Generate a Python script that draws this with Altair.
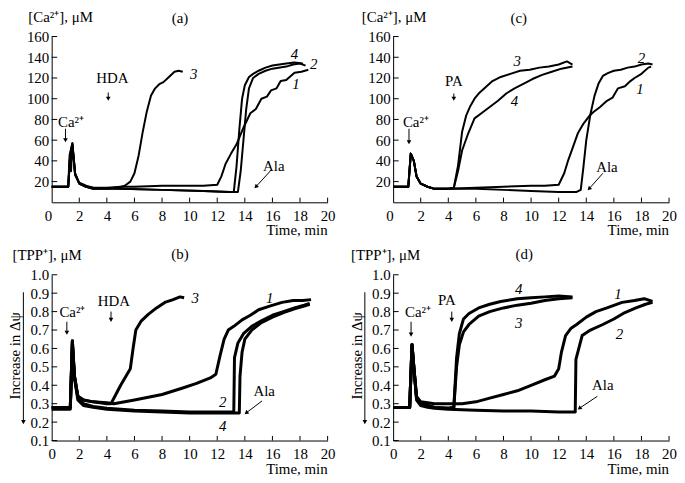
import altair as alt
import pandas as pd

FONT = "Liberation Serif"
W, H = 278, 167

X_TICKS = [0, 2, 4, 6, 8, 10, 12, 14, 16, 18, 20]
CA_TICKS = [20, 40, 60, 80, 100, 120, 140, 160]
TPP_TICKS = [0.1, 0.2, 0.3, 0.4, 0.5, 0.6, 0.7, 0.8, 0.9, 1.0]

# ---------------- panel (a): [Ca2+], HDA ----------------
A1_t = [0, 1.2, 1.3, 1.4, 1.5, 1.7, 2.0, 2.5, 3.0, 4, 5, 6, 8, 10, 11, 12.0, 12.3, 12.6, 13.0, 13.4, 13.9, 14.4, 14.8, 15.2, 15.6, 15.9, 16.3, 16.6, 17.0, 17.6, 18.1, 18.6]
A1_v = [15, 15, 46, 30, 56, 26, 19, 16, 14, 14, 15, 15, 16, 16, 16, 17, 25, 37, 47, 56, 72, 86, 90, 100, 102, 108, 110, 117, 118, 125, 126, 128]
A2_t = [0, 1.2, 1.35, 1.5, 1.7, 2.0, 2.5, 3, 5, 8, 11, 13.0, 13.5, 13.7, 13.9, 14.1, 14.3, 14.6, 15.0, 15.5, 16, 17, 17.5, 18.0, 18.4]
A2_v = [15, 15, 48, 57, 28, 18, 15, 14, 13, 12, 11, 10, 10, 30, 60, 90, 110, 120, 124, 127, 129, 131, 133, 134, 132]
A3_t = [0, 1.2, 1.35, 1.5, 1.7, 2.0, 2.5, 3, 4, 4.8, 5.3, 5.7, 6.0, 6.3, 6.6, 6.9, 7.2, 7.5, 7.8, 8.1, 8.5, 8.9, 9.2, 9.5]
A3_v = [15, 15, 47, 57, 28, 18, 15, 13, 13, 14, 16, 20, 28, 45, 68, 88, 103, 110, 114, 116, 121, 126, 127, 126]
A4_t = [0, 1.2, 1.35, 1.5, 1.7, 2.0, 2.5, 3, 5, 8, 11, 12.8, 13.2, 13.4, 13.6, 13.8, 14.0, 14.3, 14.6, 15.0, 15.5, 16, 17, 17.6, 18.2]
A4_v = [15, 15, 47, 55, 27, 18, 15, 13, 13, 12, 11, 10, 10, 35, 70, 100, 113, 121, 124, 127, 130, 132, 134, 135, 134]

# ---------------- panel (c): [Ca2+], PA ----------------
C1_t = [0, 1.1, 1.28, 1.5, 1.7, 2, 2.5, 3, 4, 6, 8, 10, 11, 12.0, 12.4, 12.7, 13.0, 13.4, 13.8, 14.2, 14.5, 15.0, 15.5, 15.9, 16.3, 16.8, 17.2, 17.5, 18.0, 18.5, 18.7]
C1_v = [15, 15, 47, 40, 25, 18, 15, 13, 13, 14, 15, 16, 16, 17, 28, 41, 52, 67, 76, 83, 87, 92, 98, 101, 110, 112, 117, 120, 124, 130, 131]
C2_t = [0, 1.1, 1.28, 1.5, 1.7, 2, 2.5, 3, 4, 6, 8, 10, 12, 13.3, 13.6, 13.8, 14.0, 14.3, 14.6, 14.9, 15.2, 15.6, 16.0, 16.5, 17, 17.5, 18.0, 18.5, 18.8]
C2_v = [15, 15, 47, 40, 25, 18, 15, 13, 13, 13, 12, 11, 10, 10, 12, 35, 60, 85, 103, 115, 122, 125, 127, 128, 130, 131, 133, 134, 133]
C3_t = [0, 1.1, 1.28, 1.5, 1.7, 2, 2.5, 3, 4.0, 4.4, 4.7, 5.0, 5.3, 5.6, 5.9, 6.2, 6.7, 7.2, 7.8, 8.5, 9.2, 9.9, 10.6, 11.3, 12.0, 12.6, 13.0]
C3_v = [15, 15, 47, 40, 25, 18, 15, 13, 13, 14, 35, 68, 84, 93, 100, 105, 111, 117, 121, 124, 127, 128, 130, 131, 133, 136, 133]
C4_t = [0, 1.1, 1.28, 1.5, 1.7, 2, 2.5, 3, 4.0, 4.4, 4.7, 5.0, 5.4, 5.9, 6.4, 7.0, 7.6, 8.2, 8.8, 9.4, 10.1, 10.8, 11.5, 12.2, 13.0]
C4_v = [15, 15, 47, 40, 25, 18, 15, 13, 13, 14, 30, 50, 65, 81, 86, 92, 98, 105, 110, 114, 119, 123, 126, 129, 131]

# ---------------- panel (b): [TPP+], HDA ----------------
B1_t = [0, 1.35, 1.5, 1.65, 1.9, 2.3, 3, 4, 4.5, 6, 8, 9.5, 10.5, 11.5, 11.9, 12.2, 12.5, 12.8, 13.2, 13.8, 14.4, 15.0, 15.8, 16.7, 17.5, 18.2, 18.8]
B1_v = [0.28, 0.28, 0.64, 0.45, 0.34, 0.32, 0.31, 0.305, 0.30, 0.32, 0.35, 0.385, 0.41, 0.44, 0.46, 0.56, 0.65, 0.70, 0.72, 0.755, 0.78, 0.81, 0.83, 0.85, 0.86, 0.86, 0.865]
B2_t = [0, 1.35, 1.5, 1.65, 1.9, 2.3, 3, 4, 6, 8, 10, 12, 13.2, 13.25, 13.5, 13.9, 14.5, 15.2, 16, 16.8, 17.6, 18.3, 18.7]
B2_v = [0.28, 0.28, 0.64, 0.45, 0.33, 0.30, 0.285, 0.275, 0.265, 0.26, 0.255, 0.255, 0.255, 0.55, 0.63, 0.68, 0.72, 0.75, 0.78, 0.80, 0.82, 0.835, 0.845]
B3_t = [0, 1.35, 1.5, 1.65, 1.9, 2.3, 3, 4, 4.3, 5.0, 5.7, 5.9, 6.1, 6.5, 7.0, 7.6, 8.2, 8.8, 9.3, 9.6]
B3_v = [0.28, 0.28, 0.64, 0.45, 0.34, 0.32, 0.31, 0.30, 0.30, 0.40, 0.49, 0.60, 0.70, 0.75, 0.785, 0.82, 0.85, 0.865, 0.88, 0.875]
B4_t = [0, 1.35, 1.5, 1.65, 1.9, 2.3, 3, 4, 6, 8, 10, 12, 13.6, 13.65, 13.8, 14.0, 14.5, 15.2, 16, 16.8, 17.6, 18.3, 18.7]
B4_v = [0.27, 0.27, 0.62, 0.44, 0.32, 0.29, 0.28, 0.27, 0.26, 0.255, 0.25, 0.25, 0.25, 0.45, 0.58, 0.65, 0.70, 0.74, 0.77, 0.795, 0.815, 0.83, 0.84]

# ---------------- panel (d): [TPP+], PA ----------------
D1_t = [0, 1.2, 1.37, 1.5, 1.7, 2.0, 2.5, 3, 4, 5, 6, 7, 8, 9, 10, 11, 11.7, 12.0, 12.2, 12.5, 12.9, 13.3, 14.0, 14.7, 15.5, 16.6, 17.5, 18.2, 18.8]
D1_v = [0.28, 0.28, 0.62, 0.50, 0.34, 0.31, 0.305, 0.30, 0.30, 0.30, 0.31, 0.33, 0.35, 0.37, 0.40, 0.43, 0.45, 0.49, 0.58, 0.67, 0.71, 0.73, 0.77, 0.80, 0.82, 0.85, 0.86, 0.87, 0.855]
D2_t = [0, 1.2, 1.37, 1.5, 1.7, 2.0, 2.5, 3, 4, 6, 8, 10, 12, 13.2, 13.25, 13.7, 14.3, 15.2, 16.0, 16.8, 17.6, 18.3, 18.8]
D2_v = [0.28, 0.28, 0.62, 0.50, 0.32, 0.29, 0.28, 0.275, 0.27, 0.265, 0.26, 0.26, 0.255, 0.255, 0.54, 0.67, 0.70, 0.73, 0.76, 0.795, 0.82, 0.84, 0.85]
D3_t = [0, 1.2, 1.37, 1.5, 1.7, 2.0, 2.5, 3, 4.0, 4.4, 4.6, 4.8, 5.1, 5.5, 6.2, 7.0, 8.0, 9.0, 10.0, 11.0, 12.0, 13.0]
D3_v = [0.28, 0.28, 0.62, 0.50, 0.33, 0.30, 0.29, 0.28, 0.275, 0.28, 0.50, 0.62, 0.69, 0.73, 0.775, 0.80, 0.82, 0.835, 0.845, 0.86, 0.87, 0.875]
D4_t = [0, 1.2, 1.37, 1.5, 1.7, 2.0, 2.5, 3, 4.0, 4.4, 4.6, 4.8, 5.1, 5.5, 6.2, 7.0, 7.8, 9.0, 10.0, 11.0, 12.0, 13.0]
D4_v = [0.28, 0.28, 0.62, 0.50, 0.33, 0.30, 0.29, 0.28, 0.275, 0.28, 0.55, 0.68, 0.76, 0.79, 0.82, 0.84, 0.855, 0.87, 0.875, 0.88, 0.885, 0.88]

# ---------------- annotations (text, time, value) ----------------
A_NOTES = [("Ca²⁺", 1.4, 77), ("HDA", 4.4, 120), ("Ala", 16.1, 35), ("(a)", 9.3, 178)]
A_CURVE_LABELS = [("3", 10.3, 124), ("4", 17.6, 143), ("2", 19.0, 133), ("1", 17.7, 114)]
A_ARROWS = [(1.0, 71, 1.0, 60, 180), (4.1, 106, 4.1, 100, 180), (15.9, 31, 14.8, 15, 225)]
A_XTITLE = [("Time, min", 20, -32)]

C_NOTES = [("Ca²⁺", 1.65, 77), ("PA", 4.4, 117), ("Ala", 15.5, 34), ("(c)", 9.1, 178)]
C_CURVE_LABELS = [("3", 9.0, 136), ("4", 8.8, 98), ("2", 18.0, 139), ("1", 17.9, 109)]
C_ARROWS = [(1.15, 71, 1.15, 58, 180), (4.4, 105, 4.4, 100, 180), (15.2, 28, 14.2, 13, 225)]
C_XTITLE = [("Time, min", 20, -32)]

B_NOTES = [("Ca²⁺", 1.5, 0.80), ("HDA", 4.5, 0.86), ("Ala", 15.4, 0.37), ("(b)", 9.3, 1.11)]
B_CURVE_LABELS = [("3", 10.4, 0.875), ("1", 15.8, 0.875), ("2", 12.4, 0.31), ("4", 12.4, 0.18)]
B_ARROWS = [(1.1, 0.745, 1.1, 0.685, 180), (4.3, 0.80, 4.3, 0.755, 180), (15.25, 0.315, 14.1, 0.25, 232)]
B_SIDE = [("Increase in Δψ", -2.62, 0.56)]
B_SIDE_ARROW = [(-2.05, 0.905, -2.05, 0.20, 180)]
B_XTITLE = [("Time, min", 20, -0.08)]

D_NOTES = [("Ca²⁺", 1.8, 0.80), ("PA", 3.9, 0.865), ("Ala", 15.2, 0.40), ("(d)", 9.5, 1.11)]
D_CURVE_LABELS = [("4", 9.1, 0.92), ("3", 9.1, 0.74), ("1", 16.3, 0.895), ("2", 16.4, 0.68)]
D_ARROWS = [(1.3, 0.745, 1.3, 0.675, 180), (4.25, 0.80, 4.25, 0.755, 180), (14.8, 0.34, 13.5, 0.275, 232)]
D_SIDE = [("Increase in Δψ", -2.62, 0.56)]
D_SIDE_ARROW = [(-2.05, 0.905, -2.05, 0.20, 180)]
D_XTITLE = [("Time, min", 20, -0.08)]


def lines_df(curves):
    rows = []
    for name, ts, vs in curves:
        for i, (t, v) in enumerate(zip(ts, vs)):
            rows.append({"curve": name, "t": t, "v": v, "i": i})
    return pd.DataFrame(rows)


def text_df(items):
    return pd.DataFrame([{"label": s, "t": t, "v": v} for s, t, v in items])


def arrow_df(items):
    return pd.DataFrame([{"t": a, "v": b, "t2": c, "v2": d, "ang": e} for a, b, c, d, e in items])


def panel(curves, notes, clabels, arrows, xtitle, ydom, yvals, yfmt, ytitle, ytx,
          sw, tick_dv, shift_zero, side=None, side_arrow=None):
    xs = alt.Scale(domain=[0, 20], nice=False, zero=False)
    ys = alt.Scale(domain=ydom, nice=False, zero=False)
    label_align = ({"condition": {"test": "datum.value === 0", "value": "right"}, "value": "center"}
                   if shift_zero else "center")
    xaxis = alt.Axis(values=X_TICKS, title=None, labelAlign=label_align)
    yaxis = alt.Axis(values=yvals, format=yfmt, title=ytitle, titleAngle=0, titleAlign="left",
                     titleBaseline="alphabetic", titleX=ytx, titleY=-15, titleFont=FONT,
                     titleFontSize=15, titleFontWeight=400)

    def X(f):
        return alt.X(f, scale=xs, axis=xaxis)

    def Y(f):
        return alt.Y(f, scale=ys, axis=yaxis)

    base = alt.Chart(lines_df(curves)).mark_line(color="black", strokeWidth=sw, strokeJoin="round").encode(
        x=X("t:Q"), y=Y("v:Q"), detail="curve:N", order="i:Q",
    )

    xt = alt.Chart(pd.DataFrame({"t": X_TICKS[1:], "v": ydom[0], "v2": ydom[0] + tick_dv})).mark_rule(
        color="black").encode(x=X("t:Q"), y=Y("v:Q"), y2="v2:Q")
    yt = alt.Chart(pd.DataFrame({"v": yvals, "t": 0.0, "t2": 0.4})).mark_rule(color="black").encode(
        x=X("t:Q"), x2="t2:Q", y=Y("v:Q"))

    txt = alt.Chart(text_df(notes)).mark_text(font=FONT, fontSize=15, color="black",
                                              align="center", baseline="middle").encode(
        x=X("t:Q"), y=Y("v:Q"), text="label:N")
    ctxt = alt.Chart(text_df(clabels)).mark_text(font=FONT, fontSize=15, fontStyle="italic",
                                                 color="black", align="center", baseline="middle").encode(
        x=X("t:Q"), y=Y("v:Q"), text="label:N")
    xtt = alt.Chart(text_df(xtitle)).mark_text(font=FONT, fontSize=15, fontWeight="normal", color="black",
                                               align="right", baseline="alphabetic").encode(
        x=X("t:Q"), y=Y("v:Q"), text="label:N")

    adf = arrow_df(arrows + (side_arrow or []))
    rules = alt.Chart(adf).mark_rule(color="black", strokeWidth=1).encode(
        x=X("t:Q"), y=Y("v:Q"), x2="t2:Q", y2="v2:Q")
    heads = alt.Chart(adf).mark_point(shape="triangle-up", filled=True, size=22, color="black",
                                      opacity=1).encode(
        x=X("t2:Q"), y=Y("v2:Q"), angle=alt.Angle("ang:Q", scale=None))
    layers = [base, xt, yt, txt, ctxt, xtt, rules, heads]
    if side:
        layers.append(
            alt.Chart(text_df(side)).mark_text(font=FONT, fontSize=15, color="black", angle=270,
                                               align="center", baseline="middle").encode(
                x=X("t:Q"), y=Y("v:Q"), text="label:N")
        )
    return alt.layer(*layers).properties(width=W, height=H)


pa = panel([("1", A1_t, A1_v), ("2", A2_t, A2_v), ("3", A3_t, A3_v), ("4", A4_t, A4_v)],
           A_NOTES, A_CURVE_LABELS, A_ARROWS, A_XTITLE, [0, 160], CA_TICKS, "d", "[Ca²⁺], μM", -24,
           2, 4.5, True)
pc = panel([("1", C1_t, C1_v), ("2", C2_t, C2_v), ("3", C3_t, C3_v), ("4", C4_t, C4_v)],
           C_NOTES, C_CURVE_LABELS, C_ARROWS, C_XTITLE, [0, 160], CA_TICKS, "d", "[Ca²⁺], μM", -32,
           2, 4.5, True)
pb = panel([("1", B1_t, B1_v), ("2", B2_t, B2_v), ("3", B3_t, B3_v), ("4", B4_t, B4_v)],
           B_NOTES, B_CURVE_LABELS, B_ARROWS, B_XTITLE, [0.1, 1.0], TPP_TICKS, ".1f", "[TPP⁺], μM", -40,
           3, 0.025, False, B_SIDE, B_SIDE_ARROW)
pd_ = panel([("1", D1_t, D1_v), ("2", D2_t, D2_v), ("3", D3_t, D3_v), ("4", D4_t, D4_v)],
            D_NOTES, D_CURVE_LABELS, D_ARROWS, D_XTITLE, [0.1, 1.0], TPP_TICKS, ".1f", "[TPP⁺], μM", -43,
            3, 0.025, False, D_SIDE, D_SIDE_ARROW)

chart = alt.concat(
    pa, pc, pb, pd_, columns=2, spacing={"row": 73, "column": 66}, bounds="flush",
).properties(
    padding=0,
    background="white",
).configure_view(
    stroke=None
).configure_axis(
    grid=False, tickSize=0, domainColor="black", domainWidth=1,
    labelFont=FONT, labelFontSize=15, labelColor="black", labelFlush=False, labelOverlap=False,
    titleFont=FONT, titleFontSize=15, titleFontWeight=400, titleColor="black",
).configure_axisX(
    labelPadding=6
).configure_axisY(
    labelPadding=3
)

chart.save("out.html", embed_options={"renderer": "svg", "actions": False})
